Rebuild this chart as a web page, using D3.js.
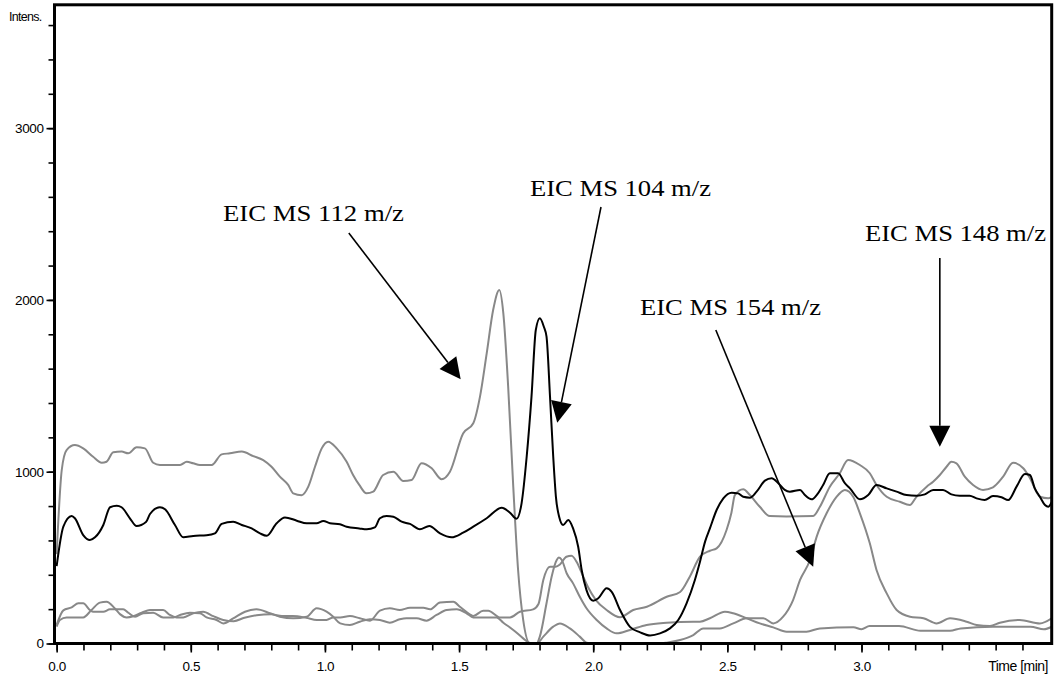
<!DOCTYPE html>
<html><head><meta charset="utf-8">
<script src="https://cdn.jsdelivr.net/npm/d3@7"></script>
<style>body{margin:0;background:#fff}svg{display:block}</style>
</head><body><svg id="chart" width="1058" height="677"></svg>
<script>
// ---- data: [time (min), intensity] ----
const eic104 = [[0,450],[0.025,680],[0.056,742],[0.068,729],[0.099,631],[0.124,602],[0.143,618],[0.174,690],[0.199,793],[0.224,802],[0.242,793],[0.273,729],[0.298,684],[0.333,707],[0.348,754],[0.385,793],[0.404,781],[0.441,690],[0.472,618],[0.509,626],[0.559,630],[0.590,641],[0.615,696],[0.658,709],[0.690,690],[0.727,670],[0.758,641],[0.783,627],[0.820,700],[0.851,734],[0.895,715],[0.932,700],[0.969,700],[0.994,713],[1.019,700],[1.056,694],[1.081,680],[1.128,670],[1.156,665],[1.186,676],[1.205,729],[1.230,742],[1.255,738],[1.286,709],[1.317,696],[1.354,665],[1.389,684],[1.429,641],[1.472,618],[1.515,645],[1.553,680],[1.603,729],[1.659,790],[1.690,761],[1.714,726],[1.733,816],[1.752,1087],[1.770,1437],[1.786,1825],[1.801,1893],[1.816,1844],[1.826,1786],[1.839,1437],[1.851,1087],[1.861,854],[1.873,738],[1.888,690],[1.907,719],[1.925,670],[1.944,563],[1.957,428],[1.975,311],[2.000,249],[2.019,263],[2.050,321],[2.069,301],[2.100,195],[2.137,97],[2.175,65],[2.212,47],[2.249,59],[2.286,88],[2.317,137],[2.348,234],[2.379,370],[2.398,476],[2.417,593],[2.435,670],[2.460,777],[2.485,845],[2.516,878],[2.540,874],[2.559,854],[2.584,849],[2.609,884],[2.640,948],[2.665,962],[2.690,933],[2.714,894],[2.733,884],[2.771,894],[2.789,864],[2.814,839],[2.833,864],[2.857,923],[2.882,991],[2.913,991],[2.938,933],[2.957,903],[2.994,839],[3.025,864],[3.056,923],[3.094,903],[3.131,884],[3.168,864],[3.205,860],[3.236,868],[3.267,894],[3.304,894],[3.335,868],[3.366,860],[3.403,860],[3.429,845],[3.459,835],[3.490,858],[3.522,851],[3.547,835],[3.578,913],[3.609,987],[3.628,981],[3.646,903],[3.665,854],[3.684,806],[3.696,796],[3.709,823]];

const eic112 = [[0,520],[0.019,1010],[0.037,1126],[0.068,1155],[0.099,1136],[0.136,1087],[0.168,1052],[0.186,1058],[0.211,1113],[0.242,1117],[0.267,1107],[0.298,1142],[0.329,1136],[0.360,1052],[0.385,1039],[0.460,1039],[0.485,1058],[0.509,1049],[0.534,1039],[0.578,1039],[0.615,1101],[0.646,1107],[0.690,1117],[0.733,1091],[0.770,1068],[0.801,1029],[0.832,971],[0.863,923],[0.882,874],[0.913,863],[0.938,913],[0.963,1029],[0.988,1136],[1.012,1175],[1.044,1136],[1.081,1058],[1.105,981],[1.128,923],[1.155,874],[1.180,884],[1.217,981],[1.255,1000],[1.292,946],[1.323,952],[1.360,1049],[1.398,1020],[1.435,956],[1.466,1000],[1.515,1223],[1.553,1282],[1.578,1437],[1.603,1689],[1.627,1941],[1.650,2058],[1.665,1922],[1.683,1495],[1.702,913],[1.720,428],[1.739,137],[1.764,0],[1.789,0],[1.801,40],[1.826,234],[1.845,389],[1.864,486],[1.872,500],[1.883,486],[1.901,409],[1.925,350],[1.950,272],[1.975,205],[2.013,137],[2.050,88],[2.087,59],[2.137,79],[2.199,108],[2.274,121],[2.373,127],[2.398,127],[2.435,147],[2.491,185],[2.522,176],[2.572,147],[2.621,117],[2.671,94],[2.721,69],[2.795,69],[2.845,88],[2.970,94],[3.000,83],[3.030,102],[3.140,102],[3.220,74],[3.330,74],[3.370,88],[3.490,98],[3.630,98],[3.680,83],[3.709,98]];

const eic154 = [[0,108],[0.025,193],[0.056,210],[0.081,234],[0.099,234],[0.124,195],[0.137,185],[0.174,185],[0.199,199],[0.248,199],[0.267,179],[0.292,156],[0.323,176],[0.360,179],[0.397,152],[0.435,152],[0.460,166],[0.497,179],[0.534,176],[0.559,152],[0.596,137],[0.621,117],[0.658,146],[0.702,185],[0.745,199],[0.795,176],[0.832,156],[0.882,147],[0.932,156],[0.969,205],[1.006,185],[1.031,156],[1.057,117],[1.093,108],[1.130,127],[1.168,141],[1.205,137],[1.242,121],[1.279,141],[1.304,147],[1.342,147],[1.379,133],[1.416,166],[1.454,195],[1.491,199],[1.528,176],[1.553,152],[1.590,152],[1.640,152],[1.665,121],[1.702,79],[1.739,30],[1.764,3],[1.790,0],[1.814,40],[1.851,98],[1.876,117],[1.913,88],[1.950,40],[1.975,5],[2.000,0],[2.240,0],[2.274,5],[2.324,20],[2.373,49],[2.410,88],[2.472,88],[2.522,117],[2.572,147],[2.634,147],[2.671,117],[2.708,156],[2.745,253],[2.771,370],[2.808,486],[2.833,622],[2.870,758],[2.907,854],[2.938,894],[2.969,854],[2.994,758],[3.031,583],[3.056,428],[3.094,292],[3.131,195],[3.181,156],[3.231,147],[3.280,117],[3.330,147],[3.392,127],[3.429,108],[3.479,102],[3.516,121],[3.590,137],[3.665,117],[3.709,147]];

const eic148 = [[0,98],[0.012,137],[0.037,152],[0.099,152],[0.130,195],[0.161,238],[0.186,243],[0.217,204],[0.236,171],[0.261,152],[0.286,159],[0.317,179],[0.348,195],[0.397,195],[0.422,166],[0.447,152],[0.472,152],[0.509,176],[0.546,185],[0.584,159],[0.621,137],[0.660,130],[0.700,150],[0.745,165],[0.800,170],[0.840,160],[0.880,160],[0.930,150],[0.970,137],[1.006,137],[1.031,152],[1.057,152],[1.093,160],[1.130,147],[1.168,133],[1.205,191],[1.242,205],[1.279,195],[1.317,208],[1.367,208],[1.392,199],[1.429,238],[1.479,243],[1.503,214],[1.540,170],[1.553,160],[1.590,191],[1.609,191],[1.652,152],[1.690,152],[1.727,185],[1.776,199],[1.796,230],[1.814,370],[1.839,447],[1.860,447],[1.876,460],[1.900,505],[1.919,511],[1.940,470],[1.960,400],[1.980,330],[2.010,253],[2.050,195],[2.100,153],[2.149,195],[2.200,214],[2.274,272],[2.324,300],[2.360,389],[2.398,505],[2.435,540],[2.460,554],[2.497,661],[2.515,760],[2.528,864],[2.559,898],[2.584,864],[2.621,796],[2.658,742],[2.720,740],[2.820,742],[2.845,796],[2.882,913],[2.919,991],[2.950,1068],[2.994,1039],[3.031,991],[3.056,923],[3.094,854],[3.143,825],[3.180,806],[3.205,854],[3.243,913],[3.267,942],[3.292,981],[3.317,1029],[3.335,1058],[3.354,1049],[3.385,971],[3.416,923],[3.453,894],[3.490,909],[3.528,971],[3.565,1052],[3.603,1020],[3.628,962],[3.665,854],[3.696,845],[3.709,853]];

const timeMajorTicks = [0.0, 0.5, 1.0, 1.5, 2.0, 2.5, 3.0];
const timeTickLabels = ["0.0", "0.5", "1.0", "1.5", "2.0", "2.5", "3.0"];
const timeMinorTicks = d3.range(0, 37).map(i => i / 10);
const intensityMajorTicks = [0, 1000, 2000, 3000];
const intensityTickLabels = ["0", "1000", "2000", "3000"];
const intensityMinorTicks = d3.range(0, 19).map(i => i * 200);

// annotations: label, arrow tail [t, intensity], arrow tip [t, intensity]
const annotationLabels = ["EIC MS 112 m/z", "EIC MS 104 m/z", "EIC MS 154 m/z", "EIC MS 148 m/z"];
const annotationTails = [[1.089, 2390], [2.029, 2541], [2.457, 1825], [3.292, 2244]];
const annotationTips = [[1.506, 1538], [1.866, 1285], [2.820, 447], [3.292, 1146]];

// ---- layout ----
const L = 54.5, R = 1051.7, T = 4.8, B = 643.5;
const labelPos = [[223, 221], [530, 196], [640, 315], [865, 241]];

const svg = d3.select("#chart");
const x = d3.scaleLinear().domain([-0.008, 3.709]).range([L, R]);
const y = d3.scaleLinear().domain([0, 3718]).range([B, T]);

svg.append("rect").attr("width", 1058).attr("height", 677).attr("fill", "#fff");

svg.append("defs").append("clipPath").attr("id", "plot")
  .append("rect").attr("x", L).attr("y", T).attr("width", R - L).attr("height", B - T);

const line = d3.line().x(d => x(d[0])).y(d => y(d[1])).curve(d3.curveMonotoneX);
const g = svg.append("g").attr("clip-path", "url(#plot)");
[eic148, eic154, eic112].forEach(s => {
  g.append("path").datum(s).attr("d", line).attr("fill", "none")
    .attr("stroke", "#888").attr("stroke-width", 2).attr("stroke-linejoin", "round");
});
g.append("path").datum(eic104).attr("d", line).attr("fill", "none")
  .attr("stroke", "#000").attr("stroke-width", 2).attr("stroke-linejoin", "round");

// axes
const axisFont = "'Liberation Sans', Arial, sans-serif";
const xMinor = svg.append("g").attr("transform", `translate(0,${B})`)
  .call(d3.axisBottom(x).tickValues(timeMinorTicks).tickSize(7).tickFormat(""));
const xMajor = svg.append("g").attr("transform", `translate(0,${B})`)
  .call(d3.axisBottom(x).tickValues(timeMajorTicks).tickSize(9).tickPadding(9)
    .tickFormat((d, i) => timeTickLabels[i]));
const yMinor = svg.append("g").attr("transform", `translate(${L},0)`)
  .call(d3.axisLeft(y).tickValues(intensityMinorTicks).tickSize(6).tickFormat(""));
const yMajor = svg.append("g").attr("transform", `translate(${L},0)`)
  .call(d3.axisLeft(y).tickValues(intensityMajorTicks).tickSize(8).tickPadding(3)
    .tickFormat((d, i) => intensityTickLabels[i]));
[xMinor, xMajor, yMinor, yMajor].forEach(a => {
  a.select(".domain").remove();
  a.selectAll(".tick line").attr("stroke", "#000").attr("stroke-width", 1.6);
  a.selectAll("text").attr("font-family", axisFont).attr("font-size", 13.5)
    .attr("letter-spacing", -0.4).attr("fill", "#000");
});

// frame
svg.append("rect").attr("x", L).attr("y", T).attr("width", R - L).attr("height", B - T)
  .attr("fill", "none").attr("stroke", "#000").attr("stroke-width", 3);

svg.append("text").attr("x", 9).attr("y", 21).text("Intens.")
  .attr("font-family", axisFont).attr("font-size", 12.5).attr("letter-spacing", -0.7);
svg.append("text").attr("x", 1048).attr("y", 671).attr("text-anchor", "end").text("Time [min]")
  .attr("font-family", axisFont).attr("font-size", 14).attr("letter-spacing", -0.5);

// annotations
const ann = svg.append("g");
annotationLabels.forEach((lab, i) => {
  ann.append("text").attr("x", labelPos[i][0]).attr("y", labelPos[i][1]).text(lab)
    .attr("font-family", "'Liberation Serif', 'Times New Roman', serif")
    .attr("font-size", 24).attr("textLength", 181).attr("lengthAdjust", "spacingAndGlyphs")
    .attr("fill", "#000");
  const x0 = x(annotationTails[i][0]), y0 = y(annotationTails[i][1]);
  const x1 = x(annotationTips[i][0]), y1 = y(annotationTips[i][1]);
  const ang = Math.atan2(y1 - y0, x1 - x0);
  const len = 21, hw = 10.5;
  const bx = x1 - len * Math.cos(ang), by = y1 - len * Math.sin(ang);
  ann.append("line").attr("x1", x0).attr("y1", y0).attr("x2", bx).attr("y2", by)
    .attr("stroke", "#000").attr("stroke-width", 1.6);
  const pts = [[x1, y1],
    [bx + hw * Math.sin(ang), by - hw * Math.cos(ang)],
    [bx - hw * Math.sin(ang), by + hw * Math.cos(ang)]];
  ann.append("polygon").attr("points", pts.map(p => p.join(",")).join(" ")).attr("fill", "#000");
});
</script>
</body></html>
